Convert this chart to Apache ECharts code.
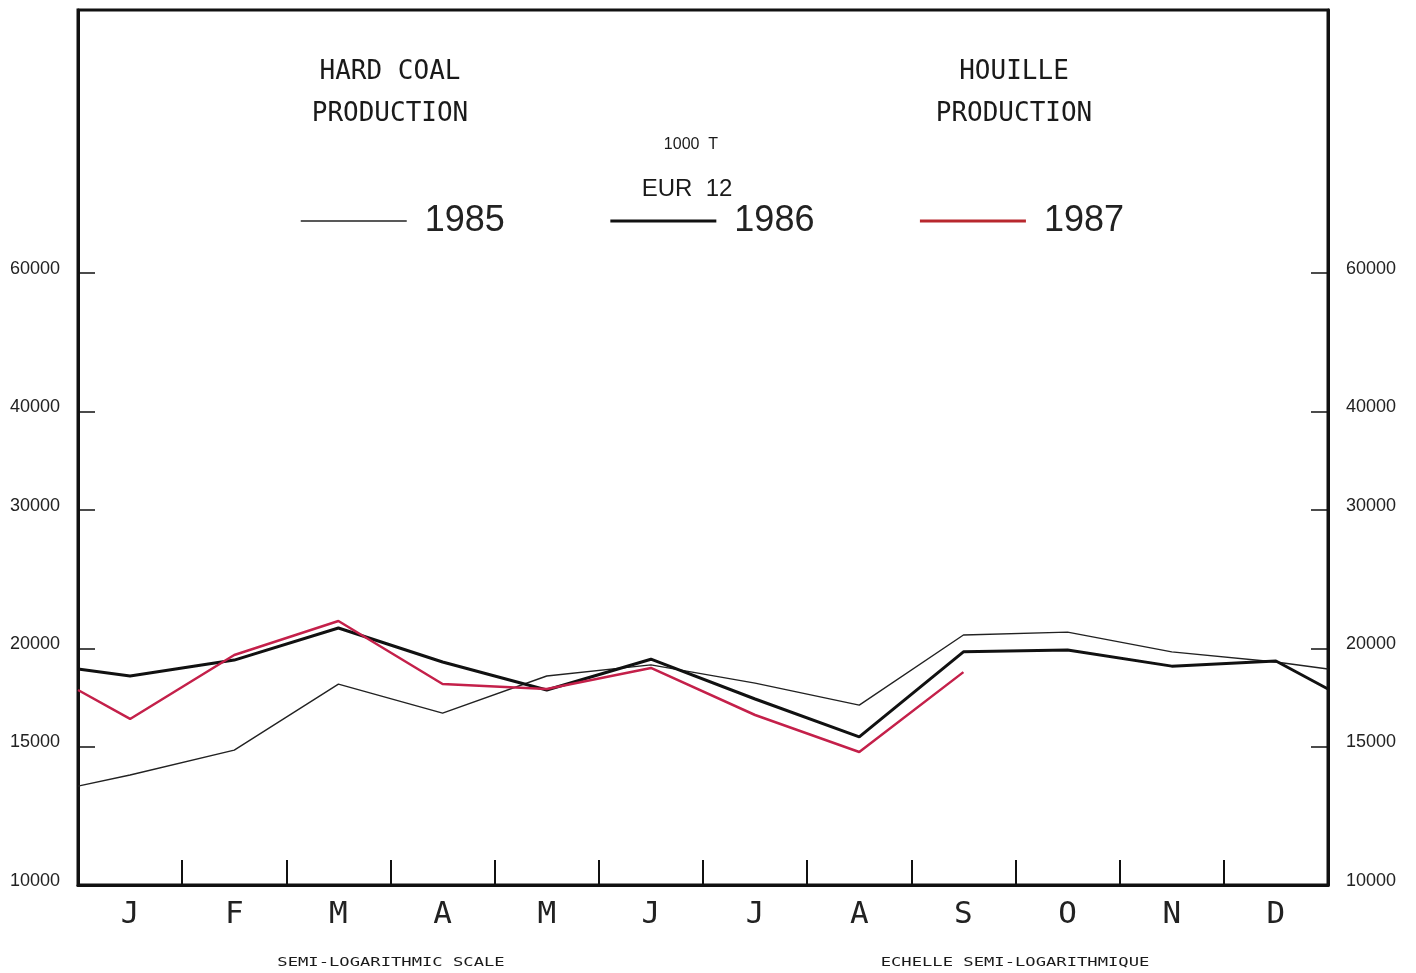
<!DOCTYPE html>
<html>
<head>
<meta charset="utf-8">
<script src="https://cdn.jsdelivr.net/npm/echarts@6/dist/echarts.min.js"></script>
<style>
html,body{margin:0;padding:0;background:#fff;}
#chart{width:1416px;height:973px;}
</style>
</head>
<body>
<div id="chart"></div>
<script>
// ---- data ----
const months = ['J','F','M','A','M','J','J','A','S','O','N','D'];
// x positions (month index); -0.5 and 11.5 are the frame edges
const xPos = [-0.5, 0, 1, 2, 3, 4, 5, 6, 7, 8, 9, 10, 11, 11.5];
const y1985 = [13360, 13800, 14840, 18010, 16540, 18440, 19050, 18060, 16930, 20790, 20970, 19790, 19210, 18820];
const y1986 = [18820, 18440, 19320, 21220, 19210, 17700, 19370, 17240, 15430, 19790, 19900, 18980, 19270, 17750];
const y1987 = [17700, 16260, 19610, 21660, 18010, 17750, 18880, 16450, 14760, 18650];
const yTickValues = [15000, 20000, 30000, 40000, 60000];
const yLabelValues = [10000, 15000, 20000, 30000, 40000, 60000];

function pairs(ys){ return ys.map((v,i)=>[xPos[i], v]); }

const chart = echarts.init(document.getElementById('chart'), null, {renderer:'canvas'});

const yAxisBase = {
  type: 'log',
  logBase: 10,
  min: 10000,
  max: 129600,
  splitLine: {show:false},
  axisLine: {show:true, onZero:false, lineStyle:{color:'#111', width:3}},
  axisTick: {show:true, inside:true, length:17, customValues: yTickValues, lineStyle:{color:'#111', width:1.5}},
  axisLabel: {show:true, customValues: yLabelValues, margin:18, color:'#222',
    fontFamily:'Liberation Sans', fontSize:18, verticalAlign:'bottom', lineHeight:8,
    formatter: v => String(Math.round(v))},
  minorTick:{show:false}
};

const option = {
  backgroundColor: '#fff',
  animation: false,
  grid: {left:78, right:88, top:10, bottom:88, show:true, borderColor:'#111', borderWidth:3, containLabel:false},
  legend: {
    left: 300, top: 203, padding: 0,
    itemWidth: 106, itemHeight: 14, itemGap: 104,
    itemStyle: {opacity: 0},
    data: [
      {name:'1985', lineStyle:{width:1.5, color:'#222'}},
      {name:'1986', lineStyle:{width:3, color:'#111'}},
      {name:'1987', lineStyle:{width:3, color:'#b8282e'}}
    ],
    textStyle: {fontFamily:'Liberation Sans', fontSize:36, color:'#222', padding:[0,0,0,13]},
    selectedMode:false
  },
  xAxis: [
    {
      type:'category', data: months, boundaryGap:true, position:'bottom',
      axisLine:{show:true, onZero:false, lineStyle:{color:'#111', width:3}},
      axisTick:{show:true, inside:true, length:25, alignWithLabel:false, lineStyle:{color:'#111', width:2}},
      axisLabel:{margin:14, color:'#222', fontFamily:'DejaVu Sans Mono', fontSize:31},
      splitLine:{show:false}
    },
    {
      type:'value', min:-0.5, max:11.5, show:false, axisLine:{onZero:false}
    }
  ],
  yAxis: [
    Object.assign({}, yAxisBase, {position:'left'}),
    Object.assign({}, yAxisBase, {position:'right'})
  ],
  series: [
    {name:'1985', type:'line', xAxisIndex:1, yAxisIndex:0, data:pairs(y1985), symbol:'none',
      lineStyle:{color:'#222', width:1.4}, itemStyle:{color:'#222'}, z:2},
    {name:'1986', type:'line', xAxisIndex:1, yAxisIndex:0, data:pairs(y1986), symbol:'none',
      lineStyle:{color:'#111', width:3}, itemStyle:{color:'#111'}, z:3},
    {name:'1987', type:'line', xAxisIndex:1, yAxisIndex:0, data:pairs(y1987), symbol:'none',
      lineStyle:{color:'#c4204a', width:2.5}, itemStyle:{color:'#b8282e'}, z:4}
  ],
  graphic: [
    {type:'text', x:390, y:72, style:{text:'HARD COAL', font:'26px "DejaVu Sans Mono"', fill:'#1a1a1a', textAlign:'center', textVerticalAlign:'middle'}},
    {type:'text', x:390, y:114, style:{text:'PRODUCTION', font:'26px "DejaVu Sans Mono"', fill:'#1a1a1a', textAlign:'center', textVerticalAlign:'middle'}},
    {type:'text', x:1014, y:72, style:{text:'HOUILLE', font:'26px "DejaVu Sans Mono"', fill:'#1a1a1a', textAlign:'center', textVerticalAlign:'middle'}},
    {type:'text', x:1014, y:114, style:{text:'PRODUCTION', font:'26px "DejaVu Sans Mono"', fill:'#1a1a1a', textAlign:'center', textVerticalAlign:'middle'}},
    {type:'text', x:691, y:145, style:{text:'1000  T', font:'16px "Liberation Sans"', fill:'#1a1a1a', textAlign:'center', textVerticalAlign:'middle'}},
    {type:'text', x:687, y:189, style:{text:'EUR  12', font:'24px "Liberation Sans"', fill:'#1a1a1a', textAlign:'center', textVerticalAlign:'middle'}},
    {type:'text', x:391, y:963, scaleX:1.43, originX:0, style:{text:'SEMI-LOGARITHMIC SCALE', font:'12px "DejaVu Sans Mono"', fill:'#1a1a1a', textAlign:'center', textVerticalAlign:'middle'}},
    {type:'text', x:1015, y:963, scaleX:1.43, originX:0, style:{text:'ECHELLE SEMI-LOGARITHMIQUE', font:'12px "DejaVu Sans Mono"', fill:'#1a1a1a', textAlign:'center', textVerticalAlign:'middle'}}
  ]
};
chart.setOption(option);
</script>
</body>
</html>
